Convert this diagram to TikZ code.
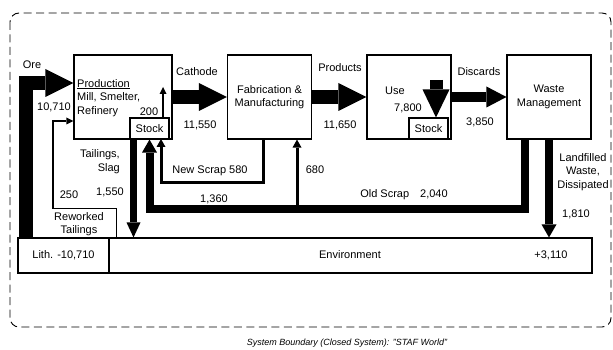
\documentclass[tikz,border=0pt]{standalone}
\usepackage{fontspec}
\setmainfont{Liberation Sans}
\usetikzlibrary{arrows.meta,positioning,calc}

\tikzset{
  box/.style={rectangle,draw,line width=1.1pt,minimum width=84pt,minimum height=84pt,inner sep=0pt},
  stockbox/.style={rectangle,draw,line width=1.1pt,minimum width=39pt,minimum height=21pt,inner sep=0pt},
  lbl/.style={inner sep=0pt},
  bigflow/.style={line width=14pt,-{Triangle[length=28pt,width=28pt,line width=0pt]}},
  midflow/.style={line width=10pt,-{Triangle[length=20pt,width=21pt,line width=0pt]}},
  darkflow/.style={line width=8pt,-{Triangle[length=13pt,width=15pt,line width=0pt]}},
  thinflow/.style={line width=3pt,-{Triangle[length=8pt,width=9pt,line width=0pt]}},
  hairflow/.style={line width=1.4pt,-{Triangle[length=7pt,width=7pt,line width=0pt]}}
}

\begin{document}
\begin{tikzpicture}[x=1pt,y=-1pt,every node/.style={font=\fontsize{11}{13.5}\selectfont}]
\useasboundingbox (0,0) rectangle (613,350);

% System boundary
\draw[line width=0.9pt,dash pattern=on 8pt off 4.5pt,rounded corners=9pt] (10,13) rectangle (611,327);
\node[lbl,font=\fontsize{9}{11}\selectfont\itshape] (boundary) at (347,343) {System Boundary (Closed System): "STAF World"};

% Processes
\node[box,minimum width=98pt] (prod) at (123,97) {};
\node[stockbox] (stockP) at (149.5,128.5) {Stock};
\node[box,align=center] (fab) at (269.5,97) {Fabrication \&\\Manufacturing};
\node[box] (use) at (409,97) {};
\node[stockbox] (stockU) at (428.5,128.5) {Stock};
\node[box,align=center] (wm) at (549,97) {Waste\\Management};
\node[lbl,anchor=north west,align=left] (prodtxt) at (77,79) {\underline{Production}\\Mill, Smelter,\\Refinery};
\node[lbl] (usetxt) at (395,91) {Use};

% Environment
\node[rectangle,draw,line width=1.1pt,minimum width=91pt,minimum height=35pt,inner sep=0pt] (lith) at (63.5,255.5) {Lith. -10,710};
\node[rectangle,draw,line width=1.1pt,minimum width=483pt,minimum height=35pt,inner sep=0pt] (env) at (350.5,255.5) {};
\node[lbl] (envtxt) at (350,255) {Environment};
\node[lbl] (envbal) at (551,255) {+3,110};

% Main flows
\coordinate (orein) at (26,238);
\draw[bigflow] (orein) |- ([yshift=14pt]prod.west);
\draw[bigflow] (prod) -- (fab);
\draw[bigflow] (fab) -- (use);
\draw[midflow] (use) -- (wm);
\coordinate (usein) at (436,80);
\draw[line width=13pt,-{Triangle[length=28pt,width=27pt,line width=0pt]}] (usein) -- (usein |- stockU.north);
\coordinate (stockout) at (163,118);
\draw[hairflow] (stockout) -- (163,87);

% Tailings and reworked tailings
\coordinate (tail) at (133.5,139);
\draw[line width=7pt,-{Triangle[length=15pt,width=14pt,line width=0pt]}] (tail) -- (tail |- env.north);
\coordinate (rework) at (116.5,238);
\draw[hairflow] (rework) |- (53,208.5) |- ([yshift=-24pt]prod.west);

% Scrap loops
\coordinate (newscrap) at (263,139);
\draw[thinflow] (newscrap) |- (161,182) -- (161,139);
\coordinate (oldscrap) at ([xshift=-24pt]wm.south);
\draw[darkflow] (oldscrap) |- (149.5,209) -- (stockP.south);
\coordinate (branch) at (297,209);
\draw[thinflow] (branch) -- (branch |- fab.south);
\draw[darkflow] (wm.south) -- (wm.south |- env.north);

% Flow labels
\node[lbl] (oretxt) at (32,65) {Ore};
\node[lbl] (oreval) at (54,107) {10,710};
\node[lbl] (stockval) at (149,112) {200};
\node[lbl] (cathtxt) at (197,72) {Cathode};
\node[lbl] (cathval) at (200,125) {11,550};
\node[lbl] (prodflow) at (340,68) {Products};
\node[lbl] (prodval) at (340,125) {11,650};
\node[lbl] (useval) at (408,108) {7,800};
\node[lbl] (disctxt) at (479,72) {Discards};
\node[lbl] (discval) at (480,122) {3,850};
\node[lbl,anchor=east,align=right] (tailtxt) at (120,161.5) {Tailings,\\Slag};
\node[lbl] (tailval) at (110,192) {1,550};
\node[lbl] (reworkval) at (69,195) {250};
\node[lbl,align=center] (reworktxt) at (79,224) {Reworked\\Tailings};
\node[lbl] (newtxt) at (210,171) {New Scrap 580};
\node[lbl] (branchval) at (315,170) {680};
\node[lbl] (oldval) at (214,199) {1,360};
\node[lbl] (oldtxt) at (404,195) {Old Scrap\quad 2,040};
\node[lbl,align=center] (landtxt) at (583,172) {Landfilled\\Waste,\\Dissipated};
\node[lbl] (landval) at (576,214) {1,810};
\end{tikzpicture}
\end{document}
